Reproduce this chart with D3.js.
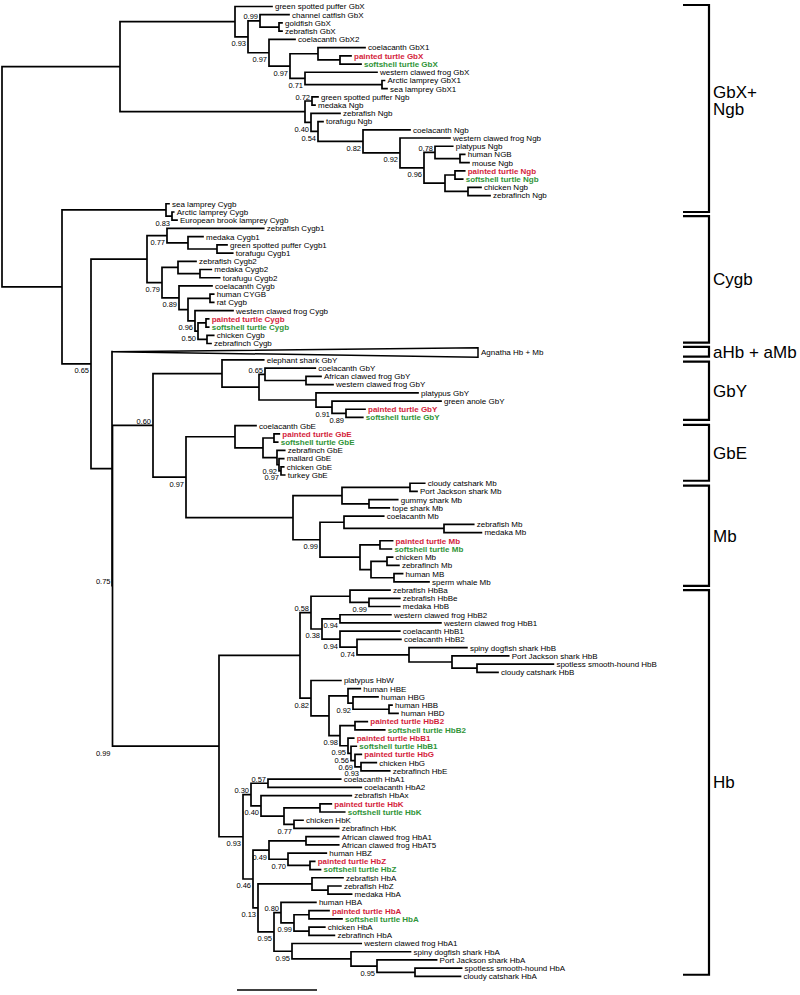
<!DOCTYPE html>
<html><head><meta charset="utf-8">
<script src="https://cdn.jsdelivr.net/npm/d3@7"></script>
<style>body{margin:0;background:#fff}</style>
</head><body><svg id="c" width="800" height="995"></svg>
<script>
// ---------- DATA (branch lengths, in drawing units) ----------
const gbxClade = "(green spotted puffer GbX:37,((channel catfish GbX:29,(goldfish GbX:3,zebrafish GbX:3):19)0.99:12,(coelacanth GbX2:26,((coelacanth GbX1:47,(painted turtle GbX:11,softshell turtle GbX:21):22):28,(western clawed frog GbX:72,(Arctic lamprey GbX1:2.5,sea lamprey GbX1:5):77)0.71:15)0.97:21)0.97:21)0.93:13)";
const ngbClade = "((green spotted puffer Ngb:6,medaka Ngb:3)0.72:7,(zebrafish Ngb:29,(torafugu Ngb:5,(coelacanth Ngb:47,(western clawed frog Ngb:50,((platypus Ngb:17.7,(human NGB:4.7,mouse Ngb:9):25)0.78:11,((painted turtle Ngb:9.7,softshell turtle Ngb:7.7):10,(chicken Ngb:13,zebrafinch Ngb:22):23):21)0.96:24)0.92:37)0.82:45)0.54:7)0.40:6)";
const cygbLamprey = "(sea lamprey Cygb:3,(Arctic lamprey Cygb:1.7,European brook lamprey Cygb:5)0.83:6)";
const cygbJawed = "((zebrafish Cygb1:96.7,(medaka Cygb1:15,(green spotted puffer Cygb1:10,torafugu Cygb1:15.7):29):21)0.77:20,((zebrafish Cygb2:18,(medaka Cygb2:11.3,torafugu Cygb2:19.7):22):16,(coelacanth Cygb:33,((human CYGB:3.7,rat Cygb:3.7):22,(western clawed frog Cygb:38,((painted turtle Cygb:2.7,softshell turtle Cygb:2.7):8,(chicken Cygb:6.7,zebrafinch Cygb:4):9)0.50:3)0.96:7):9)0.89:17)0.79:15)";
const gbyClade = "(elephant shark GbY:41.7,((coelacanth GbY:50.3,(African clawed frog GbY:15,western clawed frog GbY:27):41)0.65:6,(platypus GbY:102,(green anole GbY:109,(painted turtle GbY:19,softshell turtle GbY:16.8)0.89:14)0.91:16):57):37)";
const gbeClade = "(coelacanth GbE:21,((painted turtle GbE:5.3,softshell turtle GbE:3.7):11,(zebrafinch GbE:7.7,(mallard GbE:4.7,(chicken GbE:2.7,turkey GbE:3.7)0.97:2)0.92:2):14):28)";
const mbClade = "(((cloudy catshark Mb:14.7,Port Jackson shark Mb:7):68,(gummy shark Mb:28.7,tope shark Mb:20.3):27):49,((coelacanth Mb:39.7,(zebrafish Mb:29.7,medaka Mb:37.4):100):24,((painted turtle Mb:12.6,softshell turtle Mb:11.4):20,((chicken Mb:5.6,zebrafinch Mb:11.9):16,(human MB:8.6,sperm whale Mb:35):23):11):40)0.99:27)";
const hbBClade = "(((zebrafish HbBa:40,(zebrafish HbBe:30.8,medaka HbB:30.8)0.99:19):39,((western clawed frog HbB2:50.9,western clawed frog HbB1:100.9)0.94:18,(coelacanth HbB1:59.8,(coelacanth HbB2:43.9,(spiny dogfish shark HbB:57.9,(Port Jackson shark HbB:56.7,(spotless smooth-hound HbB:76.4,cloudy catshark HbB:21):25):43):52)0.74:17)0.94:18)0.38:11)0.58:11,(platypus HbW:29.9,((human HBE:12.3,(human HBG:25,(human HBB:3,human HBD:9):36)0.92:5):19,((painted turtle HbB2:12.3,softshell turtle HbB2:29.7):15,(painted turtle HbB1:5.7,(softshell turtle HbB1:5.3,(painted turtle HbG:6.3,(chicken HbG:15.3,zebrafinch HbE:28.7)0.93:6)0.69:4)0.56:3)0.95:8)0.98:11):18)0.82:11)";
const hbAClade = "(((coelacanth HbA1:72.7,coelacanth HbA2:93.3)0.57:17,(zebrafish HbAx:90.3,((painted turtle HbK:11.3,softshell turtle HbK:24.7):36,(chicken HbK:9,zebrafinch HbK:44.7)0.77:10):23)0.40:10)0.30:8,(((African clawed frog HbA1:32.7,African clawed frog HbAT5:32.7):37,(human HBZ:38.3,(painted turtle HbZ:4.7,softshell turtle HbZ:10.5):22)0.70:19)0.49:16,((zebrafish HbA:31,(zebrafish HbZ:12.9,medaka HbA:23.6):16):54,((human HBA:34.9,((painted turtle HbA:20,softshell turtle HbA:33):15,(chicken HbA:15.8,zebrafinch HbA:25.4):15)0.99:13)0.80:7,(western clawed frog HbA1:69.2,(spiny dogfish shark HbA:59.5,(Port Jackson shark HbA:59.6,(spotless smooth-hound HbA:46.6,cloudy catshark HbA:45.5):38)0.95:26):59)0.95:18)0.95:16)0.13:5)0.46:10)";
const collapsedTaxa = ["Agnatha Hb + Mb"];

const groupNames = [["GbX+","Ngb"],["Cygb"],["aHb + aMb"],["GbY"],["GbE"],["Mb"],["Hb"]];
// bracket extents in leaf-index units
const groupSpans = [[-0.18,25.0],[25.5,40.9],[41.4,42.6],[43.2,50.3],[50.9,57.7],[58.3,70.5],[71.0,117.8]];
const supportAbove = ["channel catfish GbX|0.99","green spotted puffer Ngb|0.72","platypus Ngb|0.78","coelacanth GbY|0.65","zebrafish HbBa|0.58","coelacanth HbA1|0.57","coelacanth HbA1|0.30","human HBA|0.80","elephant shark GbY|0.60","elephant shark GbY|0.75"];
const supportAtBranchStart = ["zebrafish HbBa|0.99"];
const scaleBarLength = 80;

// ---------- assemble the tree ----------
const gbxNgb = "(" + gbxClade + ":115," + ngbClade + ":185)";
const jawedBcd = "(" + gbyClade + ":69,(" + gbeClade + ":49," + mbClade + ":107)0.97:33)0.60";
const hbClade = "(" + hbBClade + ":81," + hbAClade + "0.93:24)0.99";
const nodeBig = "(" + jawedBcd + ":40.5," + hbClade + ":106.5)0.75";
const nodeAgn = "(Agnatha Hb + Mb:366," + nodeBig + ":0.5)";
const nodeCy = "(" + cygbJawed + ":56," + nodeAgn + ":21)0.65";
const newick = "(" + gbxNgb + ":118,(" + cygbLamprey + ":104," + nodeCy + ":29):60);";

function parseNewick(s){
  let i = 0;
  function node(){
    const n = {children: []};
    if (s[i] === "("){
      i++;
      n.children.push(node());
      while (s[i] === ","){ i++; n.children.push(node()); }
      i++;
    }
    let name = "";
    while (i < s.length && !",():;".includes(s[i])) name += s[i++];
    n.name = name.trim();
    n.length = 0;
    if (s[i] === ":"){
      i++; let num = "";
      while (i < s.length && !",();".includes(s[i])) num += s[i++];
      n.length = +num;
    }
    return n;
  }
  return node();
}

const root = d3.hierarchy(parseNewick(newick), d => d.children.length ? d.children : null);
root.each(d => { d.len = d.parent ? d.parent.len + d.data.length : 0; });
const leaves = root.leaves();

const x = d3.scaleLinear().domain([0, 600]).range([2, 602]);
const y = d3.scaleLinear().domain([0, leaves.length - 1]).range([6.5, 976.4]);
leaves.forEach((d, i) => d.py = y(i));
root.eachAfter(d => { if (d.children) d.py = (d.children[0].py + d.children[d.children.length - 1].py) / 2; });
root.each(d => d.px = x(d.len));
root.eachAfter(d => { d.firstLeaf = d.children ? d.children[0].firstLeaf : d.data.name; });

const svg = d3.select("#c");
const FONT = "'Liberation Sans', Arial, Helvetica, sans-serif";
const g = svg.append("g");

// branches
let path = "";
root.each(d => {
  if (!d.children) return;
  const c0 = d.children[0], c1 = d.children[d.children.length - 1];
  path += `M${d.px},${c0.py}V${c1.py}`;
  d.children.forEach(c => {
    if (!collapsedTaxa.includes(c.data.name)) path += `M${d.px},${c.py}H${c.px}`;
  });
});
g.append("path").attr("d", path).attr("fill", "none").attr("stroke", "#000")
  .attr("stroke-width", 1.7).attr("stroke-linecap", "square");

// collapsed clade triangles
leaves.filter(d => collapsedTaxa.includes(d.data.name)).forEach(d => {
  const p = d.parent;
  g.append("path")
    .attr("d", `M${p.px},${d.py}L${d.px},${d.py - 4}L${d.px},${d.py + 5.5}Z`)
    .attr("fill", "#fff").attr("stroke", "#000").attr("stroke-width", 1.5)
    .attr("stroke-linejoin", "miter");
});

// leaf labels
g.selectAll("text.leaf").data(leaves).join("text")
  .attr("class", "leaf")
  .attr("x", d => d.px + 3)
  .attr("y", d => d.py + 2.9)
  .attr("font-family", FONT).attr("font-size", 8)
  .attr("font-weight", d => /^(painted|softshell) turtle/.test(d.data.name) ? "bold" : "normal")
  .attr("fill", d => /^painted turtle/.test(d.data.name) ? "#d41e3c" : /^softshell turtle/.test(d.data.name) ? "#2f9438" : "#000")
  .text(d => d.data.name);

// support values
const internals = root.descendants().filter(d => d.children && d.data.name !== "");
const key = d => d.firstLeaf + "|" + d.data.name;
g.selectAll("text.sup").data(internals).join("text")
  .attr("class", "sup")
  .attr("x", d => (supportAtBranchStart.includes(key(d)) ? d.parent.px : d.px) - 2)
  .attr("y", d => supportAbove.includes(key(d)) ? d.py - 1.5 : d.py + 9.5)
  .attr("text-anchor", "end")
  .attr("font-family", FONT).attr("font-size", 7.5).attr("fill", "#000")
  .text(d => d.data.name);

// group brackets
const bx = 709, btick = 683;
groupSpans.forEach((s, i) => {
  const y0 = y(s[0]), y1 = y(s[1]);
  g.append("path").attr("d", `M${btick},${y0}H${bx}V${y1}H${btick}`)
    .attr("fill", "none").attr("stroke", "#000").attr("stroke-width", 2.2);
  const lines = groupNames[i];
  const mid = (y0 + y1) / 2;
  lines.forEach((t, j) => {
    g.append("text").attr("x", 713)
      .attr("y", mid + (j - (lines.length - 1) / 2) * 17 - (lines.length > 1 ? 8 : 0) + 6)
      .attr("font-family", FONT).attr("font-size", 17).attr("fill", "#000").text(t);
  });
});

// scale bar
const sbx = 237;
g.append("line").attr("x1", sbx).attr("x2", sbx + (x(scaleBarLength) - x(0)))
  .attr("y1", 990).attr("y2", 990).attr("stroke", "#000").attr("stroke-width", 1.6);
</script></body></html>
